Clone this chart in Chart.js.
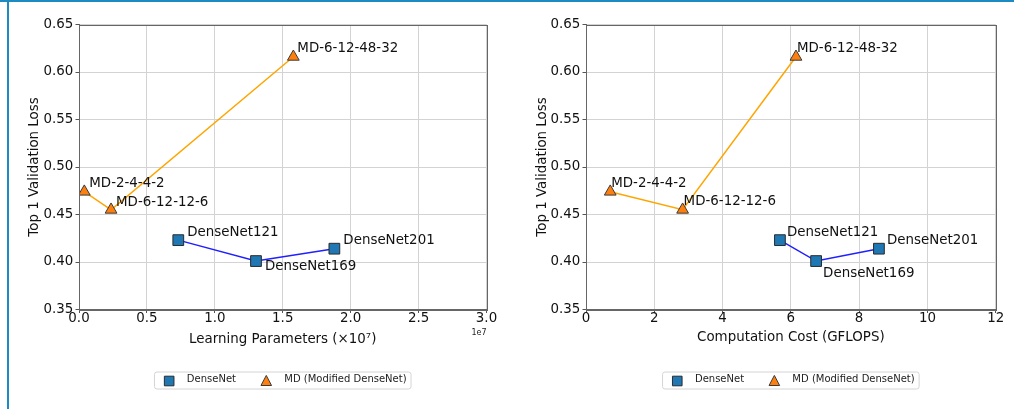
<!DOCTYPE html>
<html><head><meta charset="utf-8">
<script src="https://cdn.jsdelivr.net/npm/chart.js@4.4.0/dist/chart.umd.min.js"></script>
<style>
html,body{margin:0;padding:0;background:#fff;}
#wrap{position:relative;width:1014px;height:409px;overflow:hidden;background:#fff;}
.c{position:absolute;top:0;width:507px;height:409px;}
#topb{position:absolute;left:0;top:0;width:1014px;height:2px;background:#1b8bc2;}
#leftb{position:absolute;left:7px;top:0;width:2px;height:409px;background:#1b8bc2;}
</style></head>
<body><div id="wrap">
<div id="topb"></div><div id="leftb"></div>
<div class="c" style="left:0"><canvas id="c1" width="507" height="409"></canvas></div>
<div class="c" style="left:507px"><canvas id="c2" width="507" height="409"></canvas></div>
</div>
<script>
// ---- data ----
const denseNames = ['DenseNet121', 'DenseNet169', 'DenseNet201'];
const mdNames = ['MD-2-4-4-2', 'MD-6-12-12-6', 'MD-6-12-48-32'];
const denseParams = [7.31e6, 13.03e6, 18.80e6];
const mdParams = [0.39e6, 2.36e6, 15.78e6];
const denseGflops = [5.68, 6.74, 8.58];
const mdGflops = [0.71, 2.83, 6.15];
const denseLoss = [0.423, 0.401, 0.414];
const mdLoss = [0.474, 0.455, 0.616];
const yTickValues = [0.35, 0.40, 0.45, 0.50, 0.55, 0.60, 0.65];
const paramTickValues = [0.0, 0.5, 1.0, 1.5, 2.0, 2.5, 3.0]; // x 1e7
const gflopTickValues = [0, 2, 4, 6, 8, 10, 12];
const legendLabels = ['DenseNet', 'MD (Modified DenseNet)'];
const yTitle = 'Top 1 Validation Loss';
const xTitleParams = 'Learning Parameters (\u00d710\u2077)';
const xTitleGflops = 'Computation Cost (GFLOPS)';

const FONT = 'DejaVu Sans';
const FS = 13.4;
Chart.defaults.font.family = FONT;
Chart.defaults.font.size = FS;
Chart.defaults.color = '#111';

function pts(xs, ys) { return xs.map((x, i) => ({x: x, y: ys[i]})); }

function drawMarker(ctx, style, x, y, r, fill, stroke) {
  ctx.save();
  ctx.beginPath();
  if (style === 'rect') {
    const s = r;
    ctx.rect(x - s, y - s, 2 * s, 2 * s);
  } else {
    ctx.moveTo(x, y - r * 1.05);
    ctx.lineTo(x - r * 1.0, y + r * 0.85);
    ctx.lineTo(x + r * 1.0, y + r * 0.85);
    ctx.closePath();
  }
  ctx.fillStyle = fill; ctx.fill();
  ctx.lineWidth = 1; ctx.strokeStyle = stroke; ctx.stroke();
  ctx.restore();
}

const extrasPlugin = {
  id: 'extras',
  afterDatasetsDraw(chart, args, opts) {
    const ctx = chart.ctx;
    const ca = chart.chartArea;
    // frame
    ctx.save();
    ctx.strokeStyle = '#666';
    ctx.lineWidth = 1;
    ctx.strokeRect(Math.round(ca.left) + 0.5, Math.round(ca.top) + 0.5,
      Math.round(ca.right) - Math.round(ca.left), Math.round(ca.bottom) - Math.round(ca.top));
    ctx.restore();
    // point labels
    ctx.save();
    ctx.font = FS + 'px "' + FONT + '"';
    ctx.fillStyle = '#111';
    ctx.textAlign = 'left';
    ctx.textBaseline = 'middle';
    chart.data.datasets.forEach((ds, di) => {
      const meta = chart.getDatasetMeta(di);
      meta.data.forEach((el, j) => {
        const off = opts.offsets[di][j];
        ctx.fillText(ds.pointNames[j], el.x + off[0], el.y + off[1]);
      });
    });
    ctx.restore();
  },
  afterDraw(chart, args, opts) {
    const ctx = chart.ctx;
    const ca = chart.chartArea;
    // offset text
    if (opts.offsetText) {
      ctx.save();
      ctx.font = '8px "' + FONT + '"';
      ctx.fillStyle = '#222';
      ctx.textAlign = 'right';
      ctx.textBaseline = 'middle';
      ctx.fillText(opts.offsetText, ca.right, 333);
      ctx.restore();
    }
    // legend
    ctx.save();
    ctx.font = '10px "' + FONT + '"';
    const w1 = ctx.measureText(legendLabels[0]).width;
    const w2 = ctx.measureText(legendLabels[1]).width;
    const W = 32.4 + w1 + 30.3 + 18 + w2 + 4.5;
    const cx = (ca.left + ca.right) / 2;
    const x0 = cx - W / 2;
    const top = 372, h = 17, rr = 2.5;
    ctx.beginPath();
    ctx.moveTo(x0 + rr, top);
    ctx.lineTo(x0 + W - rr, top);
    ctx.arcTo(x0 + W, top, x0 + W, top + rr, rr);
    ctx.lineTo(x0 + W, top + h - rr);
    ctx.arcTo(x0 + W, top + h, x0 + W - rr, top + h, rr);
    ctx.lineTo(x0 + rr, top + h);
    ctx.arcTo(x0, top + h, x0, top + h - rr, rr);
    ctx.lineTo(x0, top + rr);
    ctx.arcTo(x0, top, x0 + rr, top, rr);
    ctx.closePath();
    ctx.fillStyle = 'rgba(255,255,255,0.8)';
    ctx.fill();
    ctx.strokeStyle = '#d4d4d4';
    ctx.lineWidth = 1;
    ctx.stroke();
    const ds = chart.data.datasets;
    drawMarker(ctx, 'rect', x0 + 14.7, 381, 4.8, ds[0].pointBackgroundColor, ds[0].pointBorderColor);
    const m2 = x0 + 32.4 + w1 + 30.3;
    drawMarker(ctx, 'tri', m2, 381, 5.3, ds[1].pointBackgroundColor, ds[1].pointBorderColor);
    ctx.fillStyle = '#222';
    ctx.textAlign = 'left';
    ctx.textBaseline = 'middle';
    ctx.fillText(legendLabels[0], x0 + 32.4, 379.5);
    ctx.fillText(legendLabels[1], m2 + 18, 379.5);
    ctx.restore();
  }
};

function makeChart(id, xs1, xs2, xCfg, offsets, padRight, yTitlePad, xTitlePad, offsetText) {
  return new Chart(document.getElementById(id), {
    type: 'scatter',
    data: {
      datasets: [
        {
          label: legendLabels[0],
          data: pts(xs1, denseLoss),
          pointNames: denseNames,
          showLine: true,
          borderColor: '#1f1fff',
          borderWidth: 1.5,
          pointStyle: 'rect',
          pointRadius: 7.6,
          pointHoverRadius: 7.6,
          pointBackgroundColor: '#1f77b4',
          pointBorderColor: '#2b2b2b',
          pointBorderWidth: 1
        },
        {
          label: legendLabels[1],
          data: pts(xs2, mdLoss),
          pointNames: mdNames,
          showLine: true,
          borderColor: '#ffa500',
          borderWidth: 1.5,
          pointStyle: 'triangle',
          pointRadius: 6.8,
          pointHoverRadius: 6.8,
          pointBackgroundColor: '#ff7f0e',
          pointBorderColor: '#3a3a3a',
          pointBorderWidth: 1
        }
      ]
    },
    options: {
      responsive: false,
      animation: false,
      devicePixelRatio: 1,
      layout: {padding: {top: 24.5, right: padRight, left: 0, bottom: 0}},
      plugins: {
        legend: {display: false},
        tooltip: {enabled: false},
        extras: {offsets: offsets, offsetText: offsetText}
      },
      scales: {
        x: {
          type: 'linear',
          min: xCfg.min, max: xCfg.max,
          afterBuildTicks: (s) => { s.ticks = xCfg.ticks.map(v => ({value: v})); },
          afterFit: (s) => { s.height = 99.5; },
          ticks: {callback: xCfg.fmt, padding: -2.5, maxRotation: 0, autoSkip: false, color: '#111', font: {size: FS}},
          grid: {color: '#d3d3d3', lineWidth: 1, tickColor: '#555', tickLength: 3.5, drawTicks: true},
          border: {display: true, color: '#666', width: 1},
          title: {display: true, text: xCfg.title, color: '#111', font: {size: FS}, padding: {top: 0, bottom: xTitlePad}}
        },
        y: {
          type: 'linear',
          min: 0.35, max: 0.65,
          afterBuildTicks: (s) => { s.ticks = yTickValues.map(v => ({value: v})); },
          afterFit: (s) => { s.width = 79; },
          ticks: {callback: (v) => Number(v).toFixed(2), padding: 2.2, autoSkip: false, color: '#111', font: {size: FS}},
          grid: {color: '#d3d3d3', lineWidth: 1, tickColor: '#555', tickLength: 3.5, drawTicks: true},
          border: {display: true, color: '#666', width: 1},
          title: {display: true, text: yTitle, color: '#111', font: {size: FS}, padding: {top: yTitlePad, bottom: 0}}
        }
      }
    },
    plugins: [extrasPlugin]
  });
}

makeChart('c1', denseParams, mdParams,
  {min: 0, max: 3e7, ticks: paramTickValues.map(v => v * 1e7),
   fmt: (v) => (v / 1e7).toFixed(1), title: xTitleParams},
  [[[9, -8], [9, 5], [9, -8]], [[5, -8], [5, -7], [4, -8]]],
  20.5, 26, 61, '1e7');

makeChart('c2', denseGflops, mdGflops,
  {min: 0, max: 12, ticks: gflopTickValues,
   fmt: (v) => String(v), title: xTitleGflops},
  [[[7, -8], [7, 12], [8, -8]], [[1, -8], [1, -8], [1, -8]]],
  18.3, 27, 63.5, null);
</script>
</body></html>
